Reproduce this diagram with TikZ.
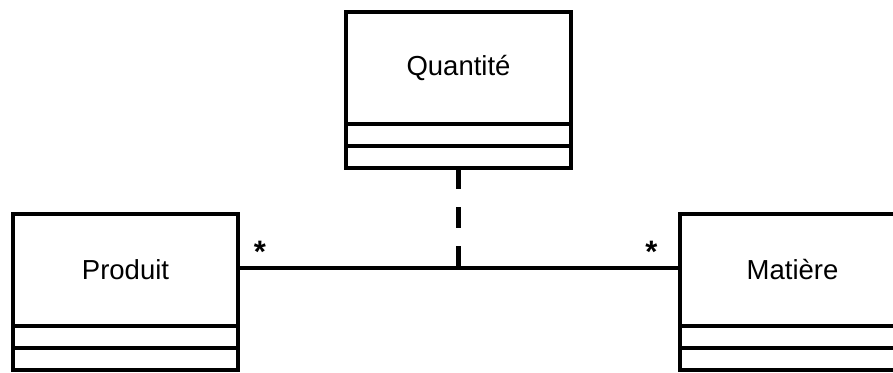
\documentclass[tikz,border=0pt]{standalone}
\usepackage{fontspec}
\setmainfont{Liberation Sans}
\begin{document}
\begin{tikzpicture}[x=1pt,y=-1pt,
  classbox/.style={draw=black,line width=4pt,minimum width=225pt,minimum height=156pt,inner sep=0pt,outer sep=0pt},
  classname/.style={font=\fontsize{27.5}{32}\selectfont,inner sep=0pt},
  sep/.style={draw=black,line width=4pt},
  assoc/.style={draw=black,line width=4.4pt},
  assocclass/.style={draw=black,line width=4.4pt,dash pattern=on 21pt off 18pt},
  mult/.style={font=\fontsize{31}{36}\selectfont\bfseries,inner sep=0pt,anchor=base}]
\useasboundingbox (0,0) rectangle (893,372);
% classes
\node[classbox] (q) at (458.5,90) {};
\node[classbox] (p) at (125.5,291.75) {};
\node[classbox] (m) at (792.5,291.75) {};
% compartment separators
\foreach \c in {q,p,m}{
  \draw[sep] ([yshift=-112pt]\c.north west) -- ([yshift=-112pt]\c.north east);
  \draw[sep] ([yshift=-134pt]\c.north west) -- ([yshift=-134pt]\c.north east);
}
% names
\node[classname] (qn) at ([yshift=-56pt]q.north) {Quantité};
\node[classname] (pn) at ([yshift=-56pt]p.north) {Produit};
\node[classname] (mn) at ([yshift=-56pt]m.north) {Matière};
% association
\coordinate (pl) at ([yshift=1.5pt]pn.center -| p.east);
\coordinate (ml) at ([yshift=1.5pt]mn.center -| m.west);
\draw[assoc] (pl) -- (ml);
\coordinate (mid) at (q.south |- pl);
\draw[assocclass] (q.south) -- (mid);
% multiplicities
\node[mult] (s1) at (260,262) {*};
\node[mult] (s2) at (651.5,262) {*};
\end{tikzpicture}
\end{document}
